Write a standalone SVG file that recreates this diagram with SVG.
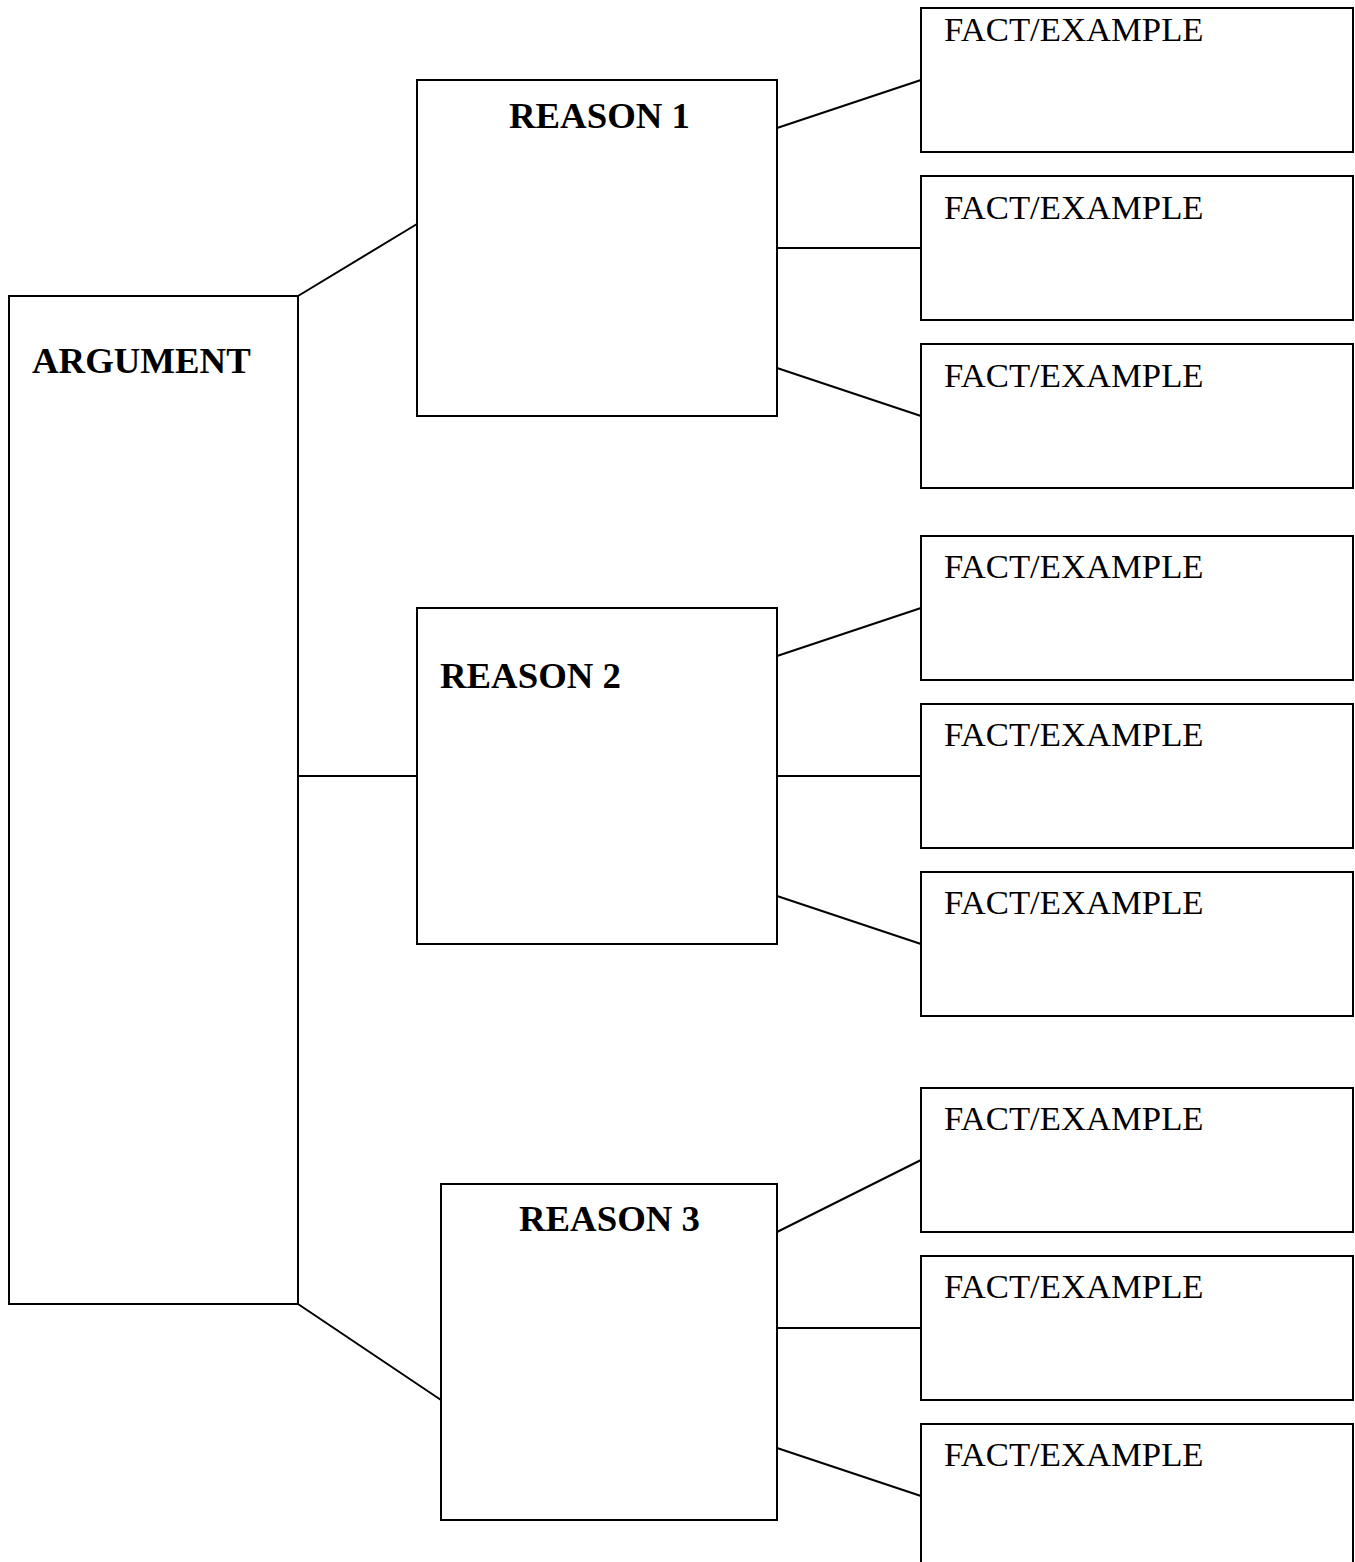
<svg xmlns="http://www.w3.org/2000/svg" width="1355" height="1562" viewBox="0 0 1355 1562">
<style>
.box{fill:#fff;stroke:#000;stroke-width:2}
.con line{stroke:#000;stroke-width:2}
.b{font-family:"Liberation Serif","Times New Roman",serif;font-weight:bold;font-size:36.8px;fill:#000}
.f{font-family:"Liberation Serif","Times New Roman",serif;font-size:34.7px;fill:#000}
</style>
<rect width="1355" height="1562" fill="#fff"/>
<g id="connectors" class="con">
<line x1="298" y1="296" x2="417" y2="224"/>
<line x1="298" y1="776" x2="417" y2="776"/>
<line x1="298" y1="1304" x2="441" y2="1400"/>
<line x1="777" y1="128" x2="921" y2="80"/>
<line x1="777" y1="248" x2="921" y2="248"/>
<line x1="777" y1="368" x2="921" y2="416"/>
<line x1="777" y1="656" x2="921" y2="608"/>
<line x1="777" y1="776" x2="921" y2="776"/>
<line x1="777" y1="896" x2="921" y2="944"/>
<line x1="777" y1="1232" x2="921" y2="1160"/>
<line x1="777" y1="1328" x2="921" y2="1328"/>
<line x1="777" y1="1448" x2="921" y2="1496"/>
</g>
<g id="argument"><rect class="box" x="9" y="296" width="289" height="1008"/><text class="b" x="32" y="373">ARGUMENT</text></g>
<g id="reason1"><rect class="box" x="417" y="80" width="360" height="336"/><text class="b" x="509" y="128">REASON 1</text></g>
<g id="reason2"><rect class="box" x="417" y="608" width="360" height="336"/><text class="b" x="440" y="688">REASON 2</text></g>
<g id="reason3"><rect class="box" x="441" y="1184" width="336" height="336"/><text class="b" x="519" y="1231">REASON 3</text></g>
<g id="fact1"><rect class="box" x="921" y="8" width="432" height="144"/><text class="f" x="944" y="41">FACT/EXAMPLE</text></g>
<g id="fact2"><rect class="box" x="921" y="176" width="432" height="144"/><text class="f" x="944" y="219">FACT/EXAMPLE</text></g>
<g id="fact3"><rect class="box" x="921" y="344" width="432" height="144"/><text class="f" x="944" y="387">FACT/EXAMPLE</text></g>
<g id="fact4"><rect class="box" x="921" y="536" width="432" height="144"/><text class="f" x="944" y="578">FACT/EXAMPLE</text></g>
<g id="fact5"><rect class="box" x="921" y="704" width="432" height="144"/><text class="f" x="944" y="746">FACT/EXAMPLE</text></g>
<g id="fact6"><rect class="box" x="921" y="872" width="432" height="144"/><text class="f" x="944" y="914">FACT/EXAMPLE</text></g>
<g id="fact7"><rect class="box" x="921" y="1088" width="432" height="144"/><text class="f" x="944" y="1130">FACT/EXAMPLE</text></g>
<g id="fact8"><rect class="box" x="921" y="1256" width="432" height="144"/><text class="f" x="944" y="1298">FACT/EXAMPLE</text></g>
<g id="fact9"><rect class="box" x="921" y="1424" width="432" height="144"/><text class="f" x="944" y="1466">FACT/EXAMPLE</text></g>
</svg>
